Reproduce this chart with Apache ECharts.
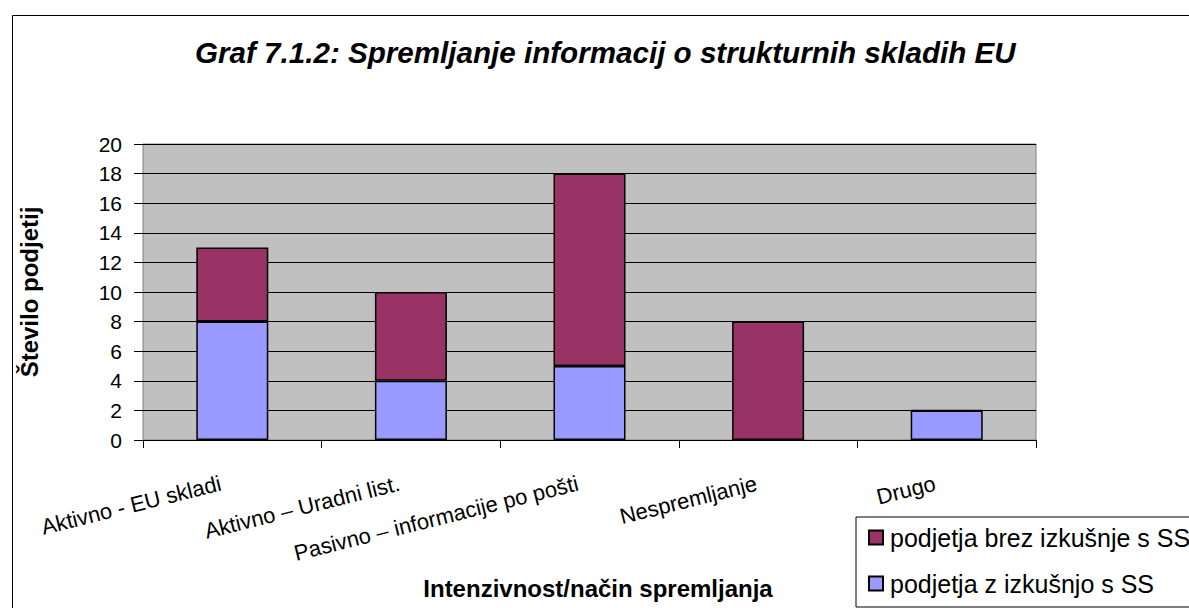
<!DOCTYPE html>
<html>
<head>
<meta charset="utf-8">
<script src="https://cdn.jsdelivr.net/npm/echarts@6/dist/echarts.min.js"></script>
<style>
  html, body { margin: 0; padding: 0; background: #fff; overflow: hidden; }
  #chart { width: 1189px; height: 608px; }
</style>
</head>
<body>
<div id="chart"></div>
<script>
const categories = ['Aktivno - EU skladi', 'Aktivno – Uradni list.', 'Pasivno – informacije po pošti', 'Nespremljanje', 'Drugo']
const withExperience = [8, 4, 5, 0, 2]       // podjetja z izkušnjo s SS
const withoutExperience = [5, 6, 13, 8, 0]   // podjetja brez izkušnje s SS
const yTicks = [0, 20, 2]                    // min, max, interval

const nameWith = 'podjetja z izkušnjo s SS'
const nameWithout = 'podjetja brez izkušnje s SS'
const font = 'Arial, "Liberation Sans", sans-serif'

const chart = echarts.init(document.getElementById('chart'), null, {renderer: 'svg'})

const option = {
  backgroundColor: '#fff',
  animation: false,
  textStyle: {fontFamily: font, color: '#000'},
  title: {
    text: 'Graf 7.1.2: Spremljanje informacij o strukturnih skladih EU',
    left: 190,
    top: 32,
    textStyle: {fontSize: 29.6, fontWeight: 'bold', fontStyle: 'italic', color: '#000', fontFamily: font}
  },
  graphic: [{
    type: 'rect',
    z: -10,
    shape: {x: 12.5, y: 15.5, width: 1400, height: 800},
    style: {fill: 'none', stroke: '#000', lineWidth: 1}
  }],
  legend: {
    data: [nameWithout, nameWith],
    orient: 'vertical',
    left: 856,
    top: 517,
    padding: [8, 30, 11, 12],
    itemGap: 21,
    itemWidth: 14,
    itemHeight: 14,
    icon: 'rect',
    borderColor: '#000',
    borderWidth: 1,
    backgroundColor: '#fff',
    textStyle: {fontSize: 25, lineHeight: 24, color: '#000', fontFamily: font, padding: [0, 0, 0, 2]}
  },
  grid: {
    left: 143,
    top: 144,
    width: 893,
    height: 296,
    show: true,
    backgroundColor: '#C0C0C0',
    borderColor: '#808080',
    borderWidth: 1,
    containLabel: false,
    outerBoundsMode: 'none'
  },
  xAxis: {
    type: 'category',
    data: categories,
    boundaryGap: true,
    name: 'Intenzivnost/način spremljanja',
    nameLocation: 'middle',
    nameGap: 136,
    nameMoveOverlap: false,
    nameTextStyle: {fontSize: 24, fontWeight: 'bold', color: '#000', fontFamily: font, padding: [0, 0, 0, 17]},
    axisLine: {show: true, lineStyle: {color: '#000', width: 1}},
    axisTick: {show: true, alignWithLabel: false, length: 8, lineStyle: {color: '#000'}},
    axisLabel: {
      interval: 0,
      rotate: 14,
      margin: 40,
      fontSize: 22,
      color: '#000',
      fontFamily: font,
      padding: [0, 12, 0, 0]
    },
    splitLine: {show: false}
  },
  yAxis: {
    type: 'value',
    min: yTicks[0],
    max: yTicks[1],
    interval: yTicks[2],
    name: 'Število podjetij',
    nameLocation: 'middle',
    nameRotate: 90,
    nameGap: 102,
    nameMoveOverlap: false,
    nameTextStyle: {fontSize: 24, fontWeight: 'bold', color: '#000', fontFamily: font},
    axisLine: {show: false},
    axisTick: {show: true, length: 9, lineStyle: {color: '#000'}},
    axisLabel: {margin: 21, fontSize: 21, color: '#000', fontFamily: font},
    splitLine: {show: true, lineStyle: {color: '#000', width: 1}}
  },
  series: [
    {
      name: nameWith,
      type: 'bar',
      stack: 'total',
      barWidth: 72,
      data: withExperience,
      itemStyle: {color: '#9999FF', borderColor: '#000', borderWidth: 1.5}
    },
    {
      name: nameWithout,
      type: 'bar',
      stack: 'total',
      barWidth: 72,
      data: withoutExperience,
      itemStyle: {color: '#993366', borderColor: '#000', borderWidth: 1.5}
    }
  ]
}

chart.setOption(option)
</script>
</body>
</html>
